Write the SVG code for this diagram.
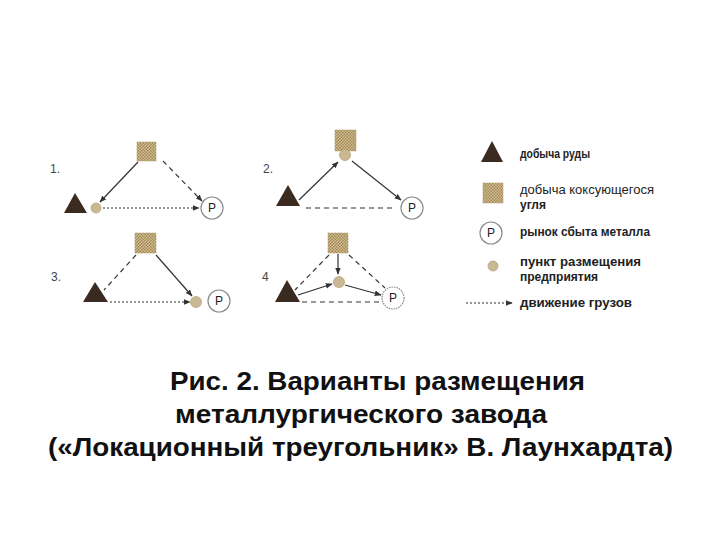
<svg xmlns="http://www.w3.org/2000/svg" width="720" height="540" viewBox="0 0 720 540">
<style>
.num{font-family:"Liberation Sans",Arial,sans-serif;font-size:12px;fill:#444}
.leg{font-family:"Liberation Sans",Arial,sans-serif;font-size:12px;font-weight:bold;fill:#222}
.legn{font-family:"Liberation Sans",Arial,sans-serif;font-size:12px;fill:#222}
.cap{font-family:"Liberation Sans",Arial,sans-serif;font-size:25px;font-weight:bold;fill:#111}
.ore{fill:#3b2a20}
.coke{fill:url(#chk);stroke:#b09a6c;stroke-width:0.5}
.plant{fill:#c9b894;stroke:#b8a47c;stroke-width:0.8}
.mkt{fill:#fff;stroke:#8a8a8a;stroke-width:1.2}
.ptxt{font-family:"Liberation Sans",Arial,sans-serif;font-size:12px;fill:#222;text-anchor:middle}
.solid{stroke:#333;stroke-width:1.2;fill:none}
.dash{stroke:#333;stroke-width:1.2;fill:none;stroke-dasharray:5,4}
.dot{stroke:#333;stroke-width:1.2;fill:none;stroke-dasharray:2,2}
</style>
<defs>
<pattern id="chk" width="3" height="3" patternUnits="userSpaceOnUse">
<rect width="3" height="3" fill="#d4bf8e"/>
<rect width="1.5" height="1.5" fill="#a0875a"/>
<rect x="1.5" y="1.5" width="1.5" height="1.5" fill="#a0875a"/>
</pattern>
<marker id="ah" viewBox="0 0 10 10" refX="9" refY="5" markerWidth="7" markerHeight="7" orient="auto" markerUnits="userSpaceOnUse">
<path d="M0,1 L10,5 L0,9 Z" fill="#333"/>
</marker>
</defs>
<rect width="720" height="540" fill="#fff"/>

<g id="connectors">
<!-- panel 1 -->
<line class="solid" x1="138" y1="162" x2="100" y2="202" marker-end="url(#ah)"/>
<line class="dash" x1="163" y1="161" x2="202" y2="201" marker-end="url(#ah)"/>
<line class="dot" x1="103" y1="208" x2="199" y2="208" marker-end="url(#ah)"/>
<!-- panel 2 -->
<line class="solid" x1="299" y1="200" x2="338" y2="162" marker-end="url(#ah)"/>
<line class="solid" x1="352" y1="161" x2="401" y2="200" marker-end="url(#ah)"/>
<line class="dash" x1="306" y1="208" x2="392" y2="208"/>
<!-- panel 3 -->
<line class="dash" x1="136" y1="255" x2="104" y2="290"/>
<line class="solid" x1="156" y1="255" x2="192" y2="296" marker-end="url(#ah)"/>
<line class="dot" x1="110" y1="302" x2="190" y2="302" marker-end="url(#ah)"/>
<!-- panel 4 -->
<line class="solid" x1="338" y1="254" x2="338" y2="274" marker-end="url(#ah)"/>
<line class="dash" x1="329" y1="255" x2="295" y2="290"/>
<line class="dash" x1="349" y1="255" x2="385" y2="288"/>
<line class="solid" x1="298" y1="295" x2="332" y2="284" marker-end="url(#ah)"/>
<line class="solid" x1="345" y1="285" x2="381" y2="295" marker-end="url(#ah)"/>
<line class="dash" x1="302" y1="302" x2="381" y2="302"/>
<!-- legend -->
<line class="dot" x1="466" y1="303" x2="512" y2="303" marker-end="url(#ah)"/>
</g>

<g id="panel1">
<text class="num" x="50" y="173">1.</text>
<rect id="p1-coke" class="coke" x="137" y="142" width="19" height="19"/>
<polygon id="p1-ore" class="ore" points="75,193 64,213 87,213"/>
<circle id="p1-plant" class="plant" cx="96" cy="208" r="5"/>
<g id="p1-market"><circle class="mkt" cx="212" cy="208" r="11"/><text class="ptxt" x="212" y="212">P</text></g>
</g>

<g id="panel2">
<text class="num" x="263" y="173">2.</text>
<rect id="p2-coke" class="coke" x="335" y="130" width="21" height="21"/>
<circle id="p2-plant" class="plant" cx="345" cy="155" r="5.5"/>
<polygon id="p2-ore" class="ore" points="288,185 276,206 300,206"/>
<g id="p2-market"><circle class="mkt" cx="412" cy="208" r="11"/><text class="ptxt" x="412" y="212">P</text></g>
</g>

<g id="panel3">
<text class="num" x="51" y="281">3.</text>
<rect id="p3-coke" class="coke" x="135" y="233" width="21" height="20"/>
<polygon id="p3-ore" class="ore" points="95,282 83,302 108,302"/>
<circle id="p3-plant" class="plant" cx="196" cy="302" r="5.5"/>
<g id="p3-market"><circle class="mkt" cx="219" cy="301" r="11"/><text class="ptxt" x="219" y="305">P</text></g>
</g>

<g id="panel4">
<text class="num" x="262" y="281">4</text>
<rect id="p4-coke" class="coke" x="328" y="233" width="20" height="20"/>
<circle id="p4-plant" class="plant" cx="339" cy="282" r="5.5"/>
<polygon id="p4-ore" class="ore" points="287,280 275,302 300,302"/>
<g id="p4-market"><circle class="mkt" cx="393" cy="298" r="11" stroke-dasharray="1.5,1"/><text class="ptxt" x="393" y="302">P</text></g>
</g>

<g id="legend">
<polygon class="ore" points="492,141 481,162 503,162"/>
<text class="leg" x="520" y="158" textLength="70" lengthAdjust="spacingAndGlyphs">добыча руды</text>
<rect class="coke" x="483" y="183" width="20" height="20"/>
<text class="legn" x="520" y="194" textLength="134" lengthAdjust="spacingAndGlyphs">добыча коксующегося</text>
<text class="leg" x="520" y="209">угля</text>
<circle class="mkt" cx="491" cy="233" r="11"/>
<text class="ptxt" x="491" y="237" font-size="11">P</text>
<text class="leg" x="520" y="236" textLength="130" lengthAdjust="spacingAndGlyphs">рынок сбыта металла</text>
<circle class="plant" cx="493" cy="266" r="5"/>
<text class="leg" x="520" y="266" textLength="121" lengthAdjust="spacingAndGlyphs">пункт размещения</text>
<text class="leg" x="520" y="281">предприятия</text>
<text class="leg" x="520" y="307" textLength="112" lengthAdjust="spacingAndGlyphs">движение грузов</text>
</g>

<g id="caption">
<text class="cap" x="170" y="390" textLength="415" lengthAdjust="spacingAndGlyphs">Рис. 2. Варианты размещения</text>
<text class="cap" x="175" y="423" textLength="372" lengthAdjust="spacingAndGlyphs">металлургического завода</text>
<text class="cap" x="48" y="456" textLength="625" lengthAdjust="spacingAndGlyphs">(«Локационный треугольник» В. Лаунхардта)</text>
</g>
</svg>
